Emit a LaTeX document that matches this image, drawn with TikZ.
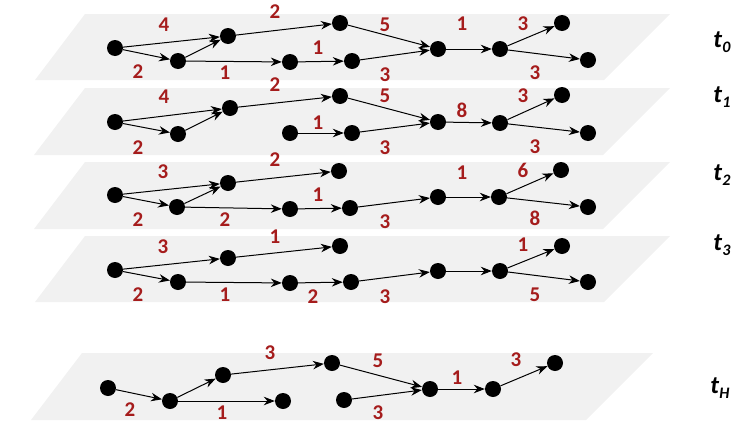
\documentclass[tikz,border=0pt]{standalone}
\usepackage{fontspec}
\setmainfont{Carlito}
\usetikzlibrary{arrows.meta}
\definecolor{planegray}{RGB}{241,241,241}
\definecolor{lblred}{RGB}{165,28,28}
\newcommand{\tsub}[1]{t\kern0.3pt\raisebox{-5.5pt}{\fontsize{16}{16}\selectfont #1}}
\begin{document}
\begin{tikzpicture}[x=1pt,y=-1pt,
  dot/.style={circle,fill=black,inner sep=0pt,minimum size=16pt},
  arr/.style={-{Stealth[length=11pt,width=8.5pt]},line width=1pt},
  lbl/.style={text=lblred,font=\fontsize{21}{21}\selectfont\bfseries,inner sep=0pt},
  tlab/.style={font=\fontsize{25}{25}\selectfont\bfseries\itshape,inner sep=0pt},
  planebox/.style={fill=planegray,draw=none}]
\useasboundingbox (0,0) rectangle (740,426);
% planes
\fill[planebox] (85,14) -- (670,14) -- (604,80) -- (35,80) -- cycle;
\fill[planebox] (85,88) -- (670,88) -- (603,155) -- (34,155) -- cycle;
\fill[planebox] (85,162) -- (670,162) -- (603,229) -- (34,229) -- cycle;
\fill[planebox] (85,236) -- (670,236) -- (604,302) -- (35,302) -- cycle;
\fill[planebox] (82,353) -- (653,353) -- (586,420) -- (31,420) -- cycle;
% ---- t0
\node[dot] (a0) at (115,48) {};
\node[dot] (b0) at (178,61) {};
\node[dot] (c0) at (228,36) {};
\node[dot] (d0) at (340,23) {};
\node[dot] (e0) at (290,62) {};
\node[dot] (f0) at (352,61) {};
\node[dot] (g0) at (438,49) {};
\node[dot] (h0) at (500,49) {};
\node[dot] (i0) at (562,23) {};
\node[dot] (j0) at (588,60) {};
\draw[arr] (a0) -- (c0);
\draw[arr] (a0) -- (b0);
\draw[arr] (b0) -- (c0);
\draw[arr] (c0) -- (d0);
\draw[arr] (b0) -- (e0);
\draw[arr] (e0) -- (f0);
\draw[arr] (d0) -- (g0);
\draw[arr] (f0) -- (g0);
\draw[arr] (g0) -- (h0);
\draw[arr] (h0) -- (i0);
\draw[arr] (h0) -- (j0);
\node[lbl] (l0a) at (164,25) {4};
\node[lbl] (l0b) at (138,72) {2};
\node[lbl] (l0c) at (275,12) {2};
\node[lbl] (l0d) at (225,73) {1};
\node[lbl] (l0e) at (318,48) {1};
\node[lbl] (l0f) at (385,25) {5};
\node[lbl] (l0g) at (385,75) {3};
\node[lbl] (l0h) at (462,24) {1};
\node[lbl] (l0i) at (523,24) {3};
\node[lbl] (l0j) at (535,73) {3};
\node[tlab] (t0) at (722,42) {\tsub{0}};
% ---- t1
\node[dot] (a1) at (115,122) {};
\node[dot] (b1) at (178,134) {};
\node[dot] (c1) at (230,108) {};
\node[dot] (d1) at (340,96) {};
\node[dot] (e1) at (290,133) {};
\node[dot] (f1) at (352,133) {};
\node[dot] (g1) at (438,122) {};
\node[dot] (h1) at (500,123) {};
\node[dot] (i1) at (562,95) {};
\node[dot] (j1) at (588,133) {};
\draw[arr] (a1) -- (c1);
\draw[arr] (a1) -- (b1);
\draw[arr] (b1) -- (c1);
\draw[arr] (c1) -- (d1);
\draw[arr] (e1) -- (f1);
\draw[arr] (d1) -- (g1);
\draw[arr] (f1) -- (g1);
\draw[arr] (g1) -- (h1);
\draw[arr] (h1) -- (i1);
\draw[arr] (h1) -- (j1);
\node[lbl] (l1a) at (164,97) {4};
\node[lbl] (l1b) at (138,148) {2};
\node[lbl] (l1c) at (275,85) {2};
\node[lbl] (l1e) at (318,123) {1};
\node[lbl] (l1f) at (385,96) {5};
\node[lbl] (l1g) at (385,148) {3};
\node[lbl] (l1h) at (462,110) {8};
\node[lbl] (l1i) at (523,96) {3};
\node[lbl] (l1j) at (535,147) {3};
\node[tlab] (t1) at (722,97) {\tsub{1}};
% ---- t2
\node[dot] (a2) at (115,195) {};
\node[dot] (b2) at (177,207) {};
\node[dot] (c2) at (228,183) {};
\node[dot] (d2) at (339,171) {};
\node[dot] (e2) at (290,209) {};
\node[dot] (f2) at (350,208) {};
\node[dot] (g2) at (438,197) {};
\node[dot] (h2) at (499,197) {};
\node[dot] (i2) at (561,170) {};
\node[dot] (j2) at (588,207) {};
\draw[arr] (a2) -- (c2);
\draw[arr] (a2) -- (b2);
\draw[arr] (b2) -- (c2);
\draw[arr] (c2) -- (d2);
\draw[arr] (b2) -- (e2);
\draw[arr] (e2) -- (f2);
\draw[arr] (f2) -- (g2);
\draw[arr] (g2) -- (h2);
\draw[arr] (h2) -- (i2);
\draw[arr] (h2) -- (j2);
\node[lbl] (l2a) at (163,172) {3};
\node[lbl] (l2b) at (138,220) {2};
\node[lbl] (l2c) at (275,160) {2};
\node[lbl] (l2d) at (225,220) {2};
\node[lbl] (l2e) at (318,195) {1};
\node[lbl] (l2g) at (385,222) {3};
\node[lbl] (l2h) at (462,173) {1};
\node[lbl] (l2i) at (523,170) {6};
\node[lbl] (l2j) at (535,218) {8};
\node[tlab] (t2) at (722,175) {\tsub{2}};
% ---- t3
\node[dot] (a3) at (115,270) {};
\node[dot] (b3) at (178,282) {};
\node[dot] (c3) at (228,258) {};
\node[dot] (d3) at (340,246) {};
\node[dot] (e3) at (290,283) {};
\node[dot] (f3) at (351,282) {};
\node[dot] (g3) at (438,271) {};
\node[dot] (h3) at (500,271) {};
\node[dot] (i3) at (562,246) {};
\node[dot] (j3) at (588,282) {};
\draw[arr] (a3) -- (c3);
\draw[arr] (a3) -- (b3);
\draw[arr] (c3) -- (d3);
\draw[arr] (b3) -- (e3);
\draw[arr] (e3) -- (f3);
\draw[arr] (f3) -- (g3);
\draw[arr] (g3) -- (h3);
\draw[arr] (h3) -- (i3);
\draw[arr] (h3) -- (j3);
\node[lbl] (l3a) at (163,247) {3};
\node[lbl] (l3b) at (138,295) {2};
\node[lbl] (l3c) at (275,237) {1};
\node[lbl] (l3d) at (225,295) {1};
\node[lbl] (l3e) at (313,297) {2};
\node[lbl] (l3g) at (385,297) {3};
\node[lbl] (l3i) at (523,245) {1};
\node[lbl] (l3j) at (535,295) {5};
\node[tlab] (t3) at (722,245) {\tsub{3}};
% ---- tH
\node[dot] (aH) at (108,388) {};
\node[dot] (bH) at (170,401) {};
\node[dot] (cH) at (223,375) {};
\node[dot] (dH) at (332,363) {};
\node[dot] (eH) at (283,401) {};
\node[dot] (fH) at (344,400) {};
\node[dot] (gH) at (430,389) {};
\node[dot] (hH) at (493,389) {};
\node[dot] (iH) at (555,363) {};
\draw[arr] (aH) -- (bH);
\draw[arr] (bH) -- (cH);
\draw[arr] (bH) -- (eH);
\draw[arr] (cH) -- (dH);
\draw[arr] (dH) -- (gH);
\draw[arr] (fH) -- (gH);
\draw[arr] (gH) -- (hH);
\draw[arr] (hH) -- (iH);
\node[lbl] (lHa) at (130,410) {2};
\node[lbl] (lHd) at (222,413) {1};
\node[lbl] (lHc) at (270,353) {3};
\node[lbl] (lHf) at (378,361) {5};
\node[lbl] (lHg) at (378,413) {3};
\node[lbl] (lHh) at (457,378) {1};
\node[lbl] (lHi) at (516,360) {3};
\node[tlab] (tH) at (720,388) {\tsub{H}};
\end{tikzpicture}
\end{document}
